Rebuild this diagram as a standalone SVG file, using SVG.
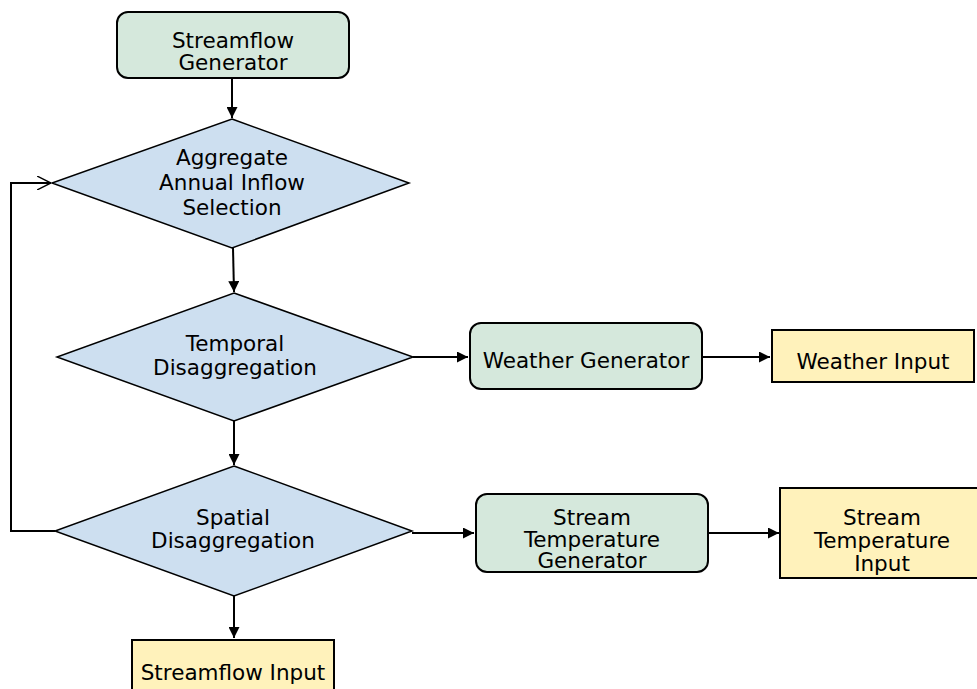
<svg xmlns="http://www.w3.org/2000/svg" width="977" height="689" viewBox="0 0 977 689">
<defs>
<style>
.gen{fill:#d5e8dc;stroke:#000;stroke-width:2}
.dec{fill:#cddff0;stroke:#000;stroke-width:1.5}
.out{fill:#fff2bb;stroke:#000;stroke-width:2}
text{font-family:"DejaVu Sans",Verdana,sans-serif;font-size:21.5px;fill:#000;text-anchor:middle}
.c{fill:none;stroke:#000;stroke-width:2}
</style>
<marker id="ah" viewBox="0 0 10 10" refX="10" refY="5" markerWidth="6" markerHeight="5.5" orient="auto" markerUnits="strokeWidth">
<path d="M0,0 L10,5 L0,10 z" fill="#000"/>
</marker>
<marker id="oa" viewBox="0 0 12 12" refX="12" refY="6" markerWidth="7" markerHeight="7" orient="auto" markerUnits="strokeWidth">
<path d="M0,0 L12,6 L0,12" fill="none" stroke="#000" stroke-width="1.2"/>
</marker>
</defs>
<rect width="977" height="689" fill="#fff"/>
<g id="connectors">
<path class="c" d="M232,78 V118" marker-end="url(#ah)"/>
<path class="c" d="M233,248 L234,292" marker-end="url(#ah)"/>
<path class="c" d="M413,357 H468" marker-end="url(#ah)"/>
<path class="c" d="M702,357 H770" marker-end="url(#ah)"/>
<path class="c" d="M234,421 V465" marker-end="url(#ah)"/>
<path class="c" d="M412,533 H474" marker-end="url(#ah)"/>
<path class="c" d="M708,533 H779" marker-end="url(#ah)"/>
<path class="c" d="M234,596 V638" marker-end="url(#ah)"/>
<path class="c" d="M55,531 H11 V183 H51" marker-end="url(#oa)"/>
</g>
<g id="streamflow-generator">
<rect class="gen" x="117" y="12" width="232" height="66" rx="11"/>
<text x="233" y="48">Streamflow</text>
<text x="233" y="70">Generator</text>
</g>
<g id="aggregate-selection">
<polygon class="dec" points="232,119 409,183 232,248 52,183"/>
<text x="232" y="165">Aggregate</text>
<text x="232" y="190">Annual Inflow</text>
<text x="232" y="215">Selection</text>
</g>
<g id="temporal-disaggregation">
<polygon class="dec" points="234,293 413,357 234,421 57,357"/>
<text x="235" y="351">Temporal</text>
<text x="235" y="375">Disaggregation</text>
</g>
<g id="weather-generator">
<rect class="gen" x="470" y="323" width="232" height="66" rx="11"/>
<text x="586" y="368">Weather Generator</text>
</g>
<g id="weather-input">
<rect class="out" x="772" y="330" width="202" height="52"/>
<text x="873" y="369">Weather Input</text>
</g>
<g id="spatial-disaggregation">
<polygon class="dec" points="234,466 412,531 234,596 55,531"/>
<text x="233" y="525">Spatial</text>
<text x="233" y="548">Disaggregation</text>
</g>
<g id="stream-temperature-generator">
<rect class="gen" x="476" y="494" width="232" height="78" rx="11"/>
<text x="592" y="525">Stream</text>
<text x="592" y="547">Temperature</text>
<text x="592" y="568">Generator</text>
</g>
<g id="stream-temperature-input">
<rect class="out" x="780" y="488" width="198" height="90"/>
<text x="882" y="525">Stream</text>
<text x="882" y="548">Temperature</text>
<text x="882" y="571">Input</text>
</g>
<g id="streamflow-input">
<rect class="out" x="132" y="640" width="202" height="52"/>
<text x="233" y="680">Streamflow Input</text>
</g>
</svg>
